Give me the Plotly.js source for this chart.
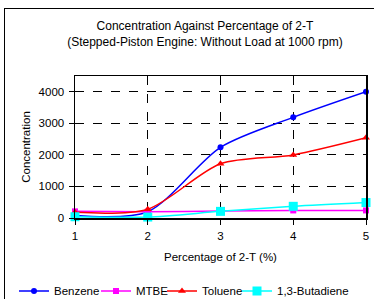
<!DOCTYPE html>
<html><head><meta charset="utf-8">
<script src="https://cdn.plot.ly/plotly-3.0.1.min.js"></script>
<style>
html,body{margin:0;padding:0;background:#fff;overflow:hidden;}
#frame{position:absolute;left:4px;top:8px;width:400px;height:320px;border:1px solid #000;}
#chart{position:absolute;left:0;top:0;width:374px;height:299px;}
</style></head>
<body>
<div id="frame"></div>
<div id="chart"></div>
<script>
const pct = [1, 2, 3, 4, 5];
const benzene = [80, 200, 2240, 3190, 4000];
const mtbe = [210, 200, 220, 240, 240];
const toluene = [180, 280, 1720, 2000, 2540];
const butadiene = [40, 30, 210, 370, 490];

const font = {family: 'Liberation Sans, Arial, sans-serif', size: 11.5, color: '#000'};
function tr(name, y, color, symbol, size, lg) {
  return {x: pct, y: y, name: name, type: 'scatter', mode: 'lines+markers', legend: lg,
    line: {color: color, width: 1.5, shape: 'spline', smoothing: 0.8},
    marker: {color: color, symbol: symbol, size: size}, cliponaxis: false};
}
const data = [
  tr('Benzene', benzene, '#0000ff', 'circle', 6, 'legend'),
  tr('MTBE', mtbe, '#ff00ff', 'square', 6, 'legend2'),
  tr('Toluene', toluene, '#ff0000', 'triangle-up', 7, 'legend3'),
  tr('1,3-Butadiene', butadiene, '#00ffff', 'square', 9, 'legend4')
];
function lg(px) {
  return {orientation: 'h', xref: 'container', x: px / 374, xanchor: 'left', yref: 'container', y: 0.027,
    yanchor: 'middle', font: font, itemwidth: 30, bgcolor: 'rgba(0,0,0,0)', borderwidth: 0};
}
const axisCommon = {showline: true, mirror: true, linecolor: '#000', linewidth: 1.5, showgrid: true,
  gridcolor: '#000', griddash: 'dash', gridwidth: 1, ticks: 'outside', ticklen: 5, tickcolor: '#000',
  zeroline: false, tickfont: font};
const layout = {
  width: 374, height: 299,
  margin: {l: 75, r: 8, t: 76, b: 81},
  paper_bgcolor: 'rgba(0,0,0,0)', plot_bgcolor: '#fff',
  font: font,
  title: {text: 'Concentration Against Percentage of 2-T<br>(Stepped-Piston Engine: Without Load at 1000 rpm)',
    font: {family: font.family, size: 12, color: '#000'}, xref: 'container', x: 0.548, xanchor: 'center',
    yref: 'container', y: 0.898, yanchor: 'middle'},
  xaxis: Object.assign({}, axisCommon, {range: [1, 5], tickvals: pct, ticktext: ['1','2','3','4','5'],
    ticklabelstandoff: 2, title: {text: 'Percentage of 2-T (%)', font: font, standoff: 11}}),
  yaxis: Object.assign({}, axisCommon, {range: [0, 4500], tickvals: [0, 1000, 2000, 3000, 4000],
    ticklabelstandoff: 2, title: {text: 'Concentration', font: font, standoff: 5}}),
  legend: lg(14), legend2: lg(96), legend3: lg(162), legend4: lg(237),
  showlegend: true
};
Plotly.newPlot('chart', data, layout, {displayModeBar: false, staticPlot: true});
</script>
</body></html>
